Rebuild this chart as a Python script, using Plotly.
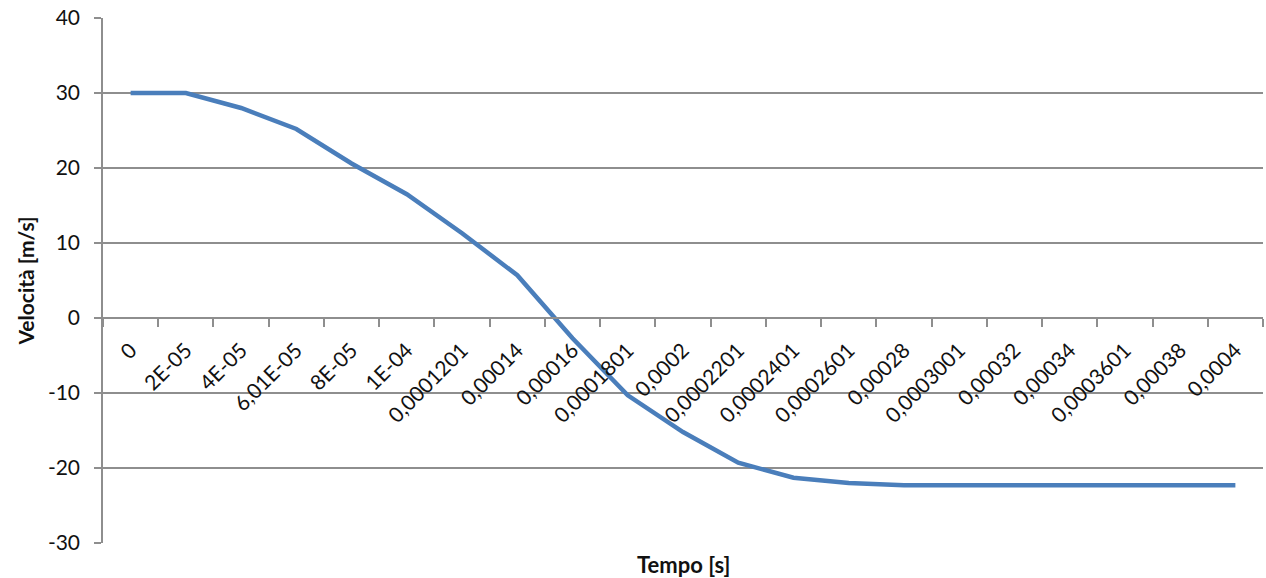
import plotly.graph_objects as go

# Time samples (category labels, Italian decimal comma) and velocity in m/s
tempo = ["0", "2E-05", "4E-05", "6,01E-05", "8E-05", "1E-04", "0,0001201",
         "0,00014", "0,00016", "0,0001801", "0,0002", "0,0002201", "0,0002401",
         "0,0002601", "0,00028", "0,0003001", "0,00032", "0,00034", "0,0003601",
         "0,00038", "0,0004"]
velocita = [30.0, 30.0, 28.0, 25.2, 20.6, 16.5, 11.3, 5.7, -2.7, -10.3, -15.2,
            -19.3, -21.3, -22.0, -22.3, -22.3, -22.3, -22.3, -22.3, -22.3, -22.3]

y_ticks = [-30, -20, -10, 0, 10, 20, 30, 40]
y_labels = ["-30", "-20", "-10", "0", "10", "20", "30", "40"]

FONT = "Lato"
GRID = "#8e8e8e"
INK = "#111111"

fig = go.Figure()
fig.add_trace(go.Scatter(
    x=tempo, y=velocita, mode="lines",
    line=dict(color="#4a7ebb", width=4.5),
    showlegend=False, hoverinfo="skip",
))

# y = 0 sits at this fraction of the plot height (range -30..40)
zero_pos = 30 / 70

fig.update_layout(
    width=1266, height=578,
    margin=dict(l=103, r=3, t=18, b=35),
    paper_bgcolor="white", plot_bgcolor="white",
    font=dict(family=FONT, size=21, color=INK),
    xaxis=dict(
        type="category", range=[-0.5, len(tempo) - 0.5],
        anchor="free", position=zero_pos,
        showline=True, linecolor=GRID, linewidth=1.5,
        ticks="outside", tickson="boundaries", ticklen=8,
        tickcolor=GRID, tickwidth=1.5,
        tickangle=-45, ticklabelstandoff=11,
        tickfont=dict(family=FONT, size=21, color=INK),
        showgrid=False, zeroline=False,
    ),
    yaxis=dict(
        range=[-30, 40], tickvals=y_ticks, ticktext=y_labels,
        showline=True, linecolor=GRID, linewidth=1.5,
        ticks="outside", ticklen=7, tickcolor=GRID, tickwidth=1.5,
        ticklabelstandoff=10,
        showgrid=True, gridcolor=GRID, gridwidth=1.5,
        zeroline=False,
        tickfont=dict(family=FONT, size=21, color=INK),
        title=dict(text="<b>Velocità [m/s]</b>", standoff=8,
                   font=dict(family=FONT, size=21, color=INK)),
    ),
    annotations=[dict(
        text="<b>Tempo [s]</b>", xref="paper", yref="paper",
        x=0.5, y=0, yshift=-6, xanchor="center", yanchor="top",
        showarrow=False, font=dict(family=FONT, size=22, color=INK),
    )],
)

fig.write_html("out.html")
